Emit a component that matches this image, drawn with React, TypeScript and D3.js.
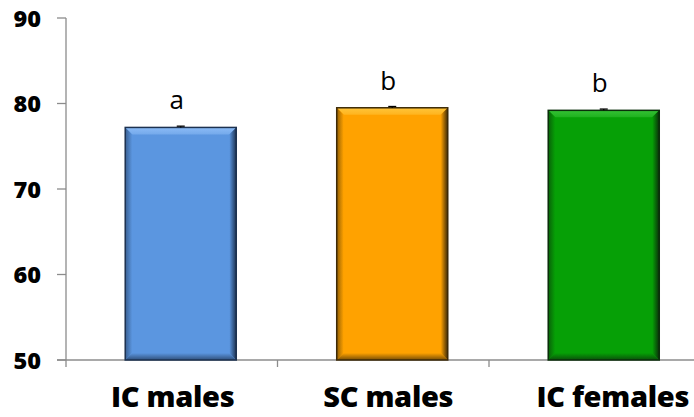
import React, { useEffect, useRef } from 'react';
import * as d3 from 'd3';

const categories = ['IC males', 'SC males', 'IC females'];
const values = [77.2, 79.5, 79.2];
const errors = [0.15, 0.15, 0.15];
const letters = ['a', 'b', 'b'];
const yTicks = [50, 60, 70, 80, 90];

const palette = [
  { base: '#5b96e0', light: '#8cbcf6', dark: '#1d3250' },
  { base: '#ffa200', light: '#ffc53a', dark: '#3d2a08' },
  { base: '#06a006', light: '#35c235', dark: '#0b2e0b' },
];

const App: React.FC = () => {
  const ref = useRef<SVGSVGElement | null>(null);

  useEffect(() => {
    if (!ref.current) return;
    const width = 694;
    const height = 417;
    const left = 66;

    const svg = d3.select(ref.current);
    svg.selectAll('*').remove();
    svg.attr('width', width).attr('height', height);

    const y = d3.scaleLinear().domain([50, 90]).range([360, 18]);
    const x = d3.scaleBand().domain(categories).range([left, 700.5]).padding(0);
    const bw = x.bandwidth();
    const barX = (c: string) => x(c)! + bw * 0.28;
    const barW = bw * 0.525;

    // axes
    const axisColor = '#8c8c8c';
    svg.append('line')
      .attr('x1', left).attr('x2', left)
      .attr('y1', y(90)).attr('y2', y(50) + 7)
      .attr('stroke', axisColor).attr('stroke-width', 1.3);
    svg.append('line')
      .attr('x1', left - 9).attr('x2', width)
      .attr('y1', y(50)).attr('y2', y(50))
      .attr('stroke', axisColor).attr('stroke-width', 1.3);

    svg.selectAll('line.ytick')
      .data(yTicks)
      .enter()
      .append('line')
      .attr('class', 'ytick')
      .attr('x1', left - 9).attr('x2', left)
      .attr('y1', d => y(d)).attr('y2', d => y(d))
      .attr('stroke', axisColor).attr('stroke-width', 1.3);

    svg.selectAll('text.ylab')
      .data(yTicks)
      .enter()
      .append('text')
      .attr('class', 'ylab')
      .attr('x', 41)
      .attr('y', d => y(d) + 8.5)
      .attr('text-anchor', 'end')
      .style('font-family', '"Open Sans", sans-serif')
      .style('font-weight', 800)
      .style('font-size', '23.5px')
      .style('fill', '#000')
      .text(d => d);

    svg.selectAll('line.xtick')
      .data(categories.slice(1))
      .enter()
      .append('line')
      .attr('class', 'xtick')
      .attr('x1', d => x(d)!).attr('x2', d => x(d)!)
      .attr('y1', y(50)).attr('y2', y(50) + 7)
      .attr('stroke', axisColor).attr('stroke-width', 1.3);

    svg.selectAll('text.xlab')
      .data(categories)
      .enter()
      .append('text')
      .attr('class', 'xlab')
      .attr('x', (d, i) => x(d)! + bw / 2 + [1, 5, 18][i])
      .attr('y', 407)
      .attr('text-anchor', 'middle')
      .style('font-family', '"Open Sans", sans-serif')
      .style('font-weight', 800)
      .style('font-size', '29px')
      .style('letter-spacing', '-0.3px')
      .style('fill', '#000')
      .text(d => d);

    // gradients
    const defs = svg.append('defs');
    palette.forEach((p, i) => {
      const mk = (id: string, x1: number, y1: number, x2: number, y2: number, c1: string, c2: string) => {
        const g = defs.append('linearGradient').attr('id', id)
          .attr('x1', x1).attr('y1', y1).attr('x2', x2).attr('y2', y2);
        g.append('stop').attr('offset', 0).attr('stop-color', c1);
        g.append('stop').attr('offset', 1).attr('stop-color', c2);
      };
      mk(`top${i}`, 0, 0, 0, 1, p.light, d3.interpolateRgb(p.light, p.base)(0.5));
      mk(`left${i}`, 0, 0, 1, 0, d3.interpolateRgb(p.dark, p.base)(0.45), p.base);
      mk(`right${i}`, 1, 0, 0, 0, p.dark, p.base);
      mk(`bot${i}`, 0, 1, 0, 0, d3.interpolateRgb(p.dark, p.base)(0.3), p.base);
    });

    // bars
    const b = 7;
    categories.forEach((c, i) => {
      const p = palette[i];
      const x0 = barX(c);
      const x1 = x0 + barW;
      const y0 = y(values[i]);
      const y1 = y(50);
      const g = svg.append('g');
      g.append('rect')
        .attr('x', x0).attr('y', y0)
        .attr('width', barW).attr('height', y1 - y0)
        .attr('fill', p.base);
      const poly = (pts: number[][], fill: string) =>
        g.append('polygon').attr('points', pts.map(q => q.join(',')).join(' ')).attr('fill', fill);
      poly([[x0, y0], [x1, y0], [x1 - b, y0 + b], [x0 + b, y0 + b]], `url(#top${i})`);
      poly([[x0, y0], [x0 + b, y0 + b], [x0 + b, y1 - b], [x0, y1]], `url(#left${i})`);
      poly([[x1, y0], [x1, y1], [x1 - b, y1 - b], [x1 - b, y0 + b]], `url(#right${i})`);
      poly([[x0, y1], [x0 + b, y1 - b], [x1 - b, y1 - b], [x1, y1]], `url(#bot${i})`);
      g.append('rect')
        .attr('x', x0).attr('y', y0)
        .attr('width', barW).attr('height', y1 - y0)
        .attr('fill', 'none')
        .attr('stroke', p.dark)
        .attr('stroke-width', 1.5);

      // error bar
      const cx = x0 + barW / 2;
      g.append('line')
        .attr('x1', cx).attr('x2', cx)
        .attr('y1', y(values[i])).attr('y2', y(values[i] + errors[i]))
        .attr('stroke', '#000').attr('stroke-width', 1.3);
      g.append('line')
        .attr('x1', cx - 4).attr('x2', cx + 4)
        .attr('y1', y(values[i] + errors[i])).attr('y2', y(values[i] + errors[i]))
        .attr('stroke', '#000').attr('stroke-width', 1.3);

      // significance letter
      g.append('text')
        .attr('x', cx - 4)
        .attr('y', y(values[i]) - 18)
        .attr('text-anchor', 'middle')
        .style('font-family', '"Open Sans", sans-serif')
        .style('font-size', '26px')
        .style('fill', '#000')
        .text(letters[i]);
    });
  }, []);

  return <svg ref={ref} style={{ position: 'absolute', left: 0, top: 0 }} />;
};

export default App;
